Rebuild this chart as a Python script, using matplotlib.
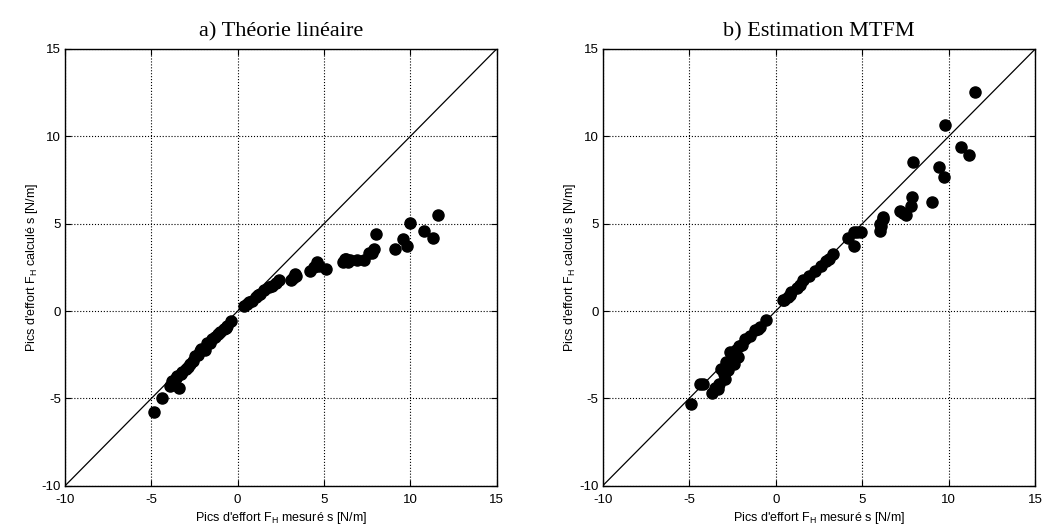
import numpy as np
import matplotlib.pyplot as plt

plt.rcParams['axes.unicode_minus'] = False

# a) Théorie linéaire : pics mesurés / calculés
lin_mes = [-4.85, -4.4, -3.9, -3.4, -3.8, -3.6, -3.5, -3.2, -3.0, -2.9,
           -2.6, -2.45, -2.2, -2.1, -1.75, -1.5, -1.3, -1.0, -0.8, -0.6,
           -0.4, 0.35, 0.55, 0.8, 1.05, 1.3, 1.5, 2.0, 2.4, 2.2,
           3.1, 3.3, 3.2, 4.2, 4.7, 4.6, 5.1, 6.1, 6.3, 6.5,
           6.2, 6.9, 7.3, 7.6, 7.8, 7.9, 8.0, 9.1, 9.6, 9.8,
           9.96, 10.8, 11.3, 11.6,
           -3.7, -3.3, -2.75, -2.3, -1.9, -1.6, -1.15, -0.7, 0.65, 1.2,
           1.8, 3.4, 4.4, 6.4]
lin_cal = [-5.75, -5.0, -4.3, -4.4, -4.0, -3.85, -3.7, -3.5, -3.3, -3.2,
           -2.85, -2.55, -2.3, -2.15, -1.8, -1.6, -1.5, -1.2, -1.0, -0.85,
           -0.55, 0.3, 0.4, 0.6, 0.8, 1.0, 1.2, 1.45, 1.75, 1.6,
           1.75, 2.1, 1.9, 2.3, 2.6, 2.8, 2.4, 2.8, 3.0, 2.9,
           2.95, 2.9, 2.9, 3.3, 3.3, 3.55, 4.4, 3.55, 4.1, 3.75,
           5.04, 4.6, 4.2, 5.5,
           -4.2, -3.6, -3.0, -2.5, -2.2, -1.85, -1.3, -0.95, 0.5, 0.9,
           1.35, 2.0, 2.5, 2.8]

# b) Estimation MTFM
mtfm_mes = [-4.9, -4.4, -4.2, -3.7, -3.35, -3.25, -2.95, -2.75, -3.15, -2.9,
            -2.4, -2.2, -2.65, -2.27, -1.97, -1.8, -1.2, -0.9, -0.54, 0.5,
            0.9, 0.42, 0.8, 1.2, 1.6, 1.95, 2.25, 2.9, 3.3, 4.2,
            4.5, 4.95, 4.5, 6.0, 6.1, 6.2, 6.2, 7.15, 7.55, 7.8,
            7.87, 9.0, 7.9, 9.45, 9.7, 10.7, 11.15, 9.8, 11.5,
            -3.5, -3.0, -2.55, -2.1, -1.5, -1.0, 0.7, 1.4, 2.6, 3.1,
            4.7, 6.05, 7.35]
mtfm_cal = [-5.3, -4.2, -4.15, -4.7, -4.45, -4.15, -3.9, -3.4, -3.3, -2.9,
            -3.0, -2.6, -2.35, -2.25, -1.95, -1.57, -1.1, -0.9, -0.52, 0.63,
            1.1, 0.65, 0.94, 1.3, 1.8, 2.0, 2.27, 2.85, 3.24, 4.2,
            4.5, 4.5, 3.7, 4.6, 4.85, 5.4, 5.25, 5.7, 5.5, 6.0,
            6.5, 6.25, 8.5, 8.25, 7.65, 9.4, 8.9, 10.65, 12.56,
            -4.4, -3.6, -2.8, -2.0, -1.4, -1.0, 0.8, 1.5, 2.6, 3.0,
            4.5, 5.0, 5.6]

ticks = [-10, -5, 0, 5, 10, 15]

fig = plt.figure(figsize=(10.48, 5.31), dpi=100)
ax1 = fig.add_axes([0.062, 0.085, 0.412, 0.823])
ax2 = fig.add_axes([0.575, 0.085, 0.413, 0.823])

panels = [
    (ax1, lin_mes, lin_cal, 'a) Théorie linéaire'),
    (ax2, mtfm_mes, mtfm_cal, 'b) Estimation MTFM'),
]

for ax, xm, yc, title in panels:
    ax.plot([-10, 15], [-10, 15], color='black', lw=0.9)
    ax.plot(xm, yc, 'o', color='black', ms=8, mec='black')
    ax.set_xlim(-10, 15)
    ax.set_ylim(-10, 15)
    ax.set_xticks(ticks)
    ax.set_yticks(ticks)
    ax.grid(True, linestyle=':', color='black', lw=0.8)
    ax.tick_params(direction='in', top=True, right=True, labelsize=9.5,
                   length=4, pad=3)
    ax.tick_params(axis='x', pad=6)
    for lab in ax.get_xticklabels() + ax.get_yticklabels():
        lab.set_family('Liberation Sans')
    for s in ax.spines.values():
        s.set_linewidth(1.0)
    ax.set_title(title, family='Liberation Serif', fontsize=16, pad=9)
    ax.set_xlabel(r"Pics d'effort F$_\mathregular{H}$ mesuré s [N/m]",
                  family='Liberation Sans', fontsize=9, labelpad=3)
    ax.set_ylabel(r"Pics d'effort F$_\mathregular{H}$ calculé s [N/m]",
                  family='Liberation Sans', fontsize=9, labelpad=1)

fig.savefig('out.png', dpi=100)
